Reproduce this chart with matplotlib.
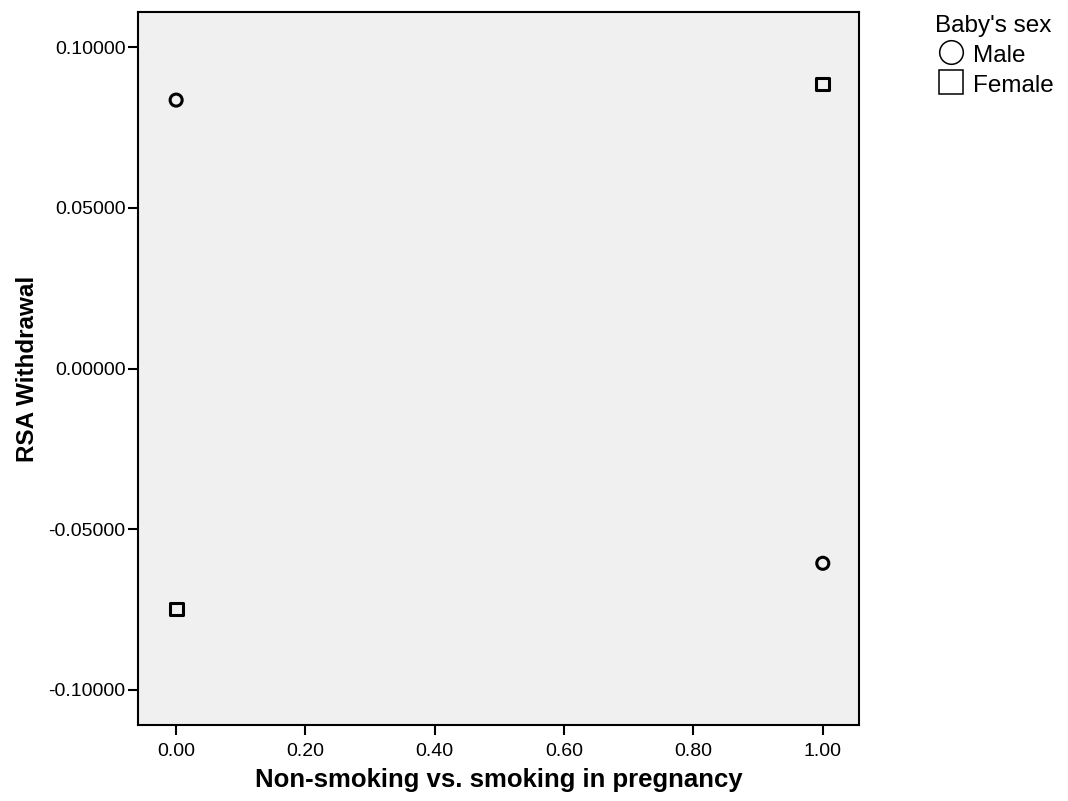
import matplotlib.pyplot as plt
from matplotlib.lines import Line2D

plt.rcParams['font.family'] = ['Liberation Sans', 'DejaVu Sans']

# Group means: smoking status (0 = non-smoking, 1 = smoking) by baby's sex
smoking = [0.0, 1.0]
male_rsa = [0.0835, -0.0606]
female_rsa = [-0.0748, 0.0885]

x_ticks = [0.0, 0.2, 0.4, 0.6, 0.8, 1.0]
y_ticks = [-0.10, -0.05, 0.0, 0.05, 0.10]

fig = plt.figure(figsize=(10.68, 8.01), dpi=100)
ax = fig.add_axes([0.1292, 0.0949, 0.6751, 0.8901])
ax.set_facecolor('#f0f0f0')

ax.scatter(smoking, male_rsa, marker='o', s=75, facecolors='none',
           edgecolors='black', linewidths=2.2, zorder=3)
ax.scatter(smoking, female_rsa, marker='s', s=85, facecolors='none',
           edgecolors='black', linewidths=2.2, zorder=3)

ax.set_xlim(-0.059, 1.056)
ax.set_ylim(-0.1109, 0.1109)
ax.set_xticks(x_ticks)
ax.set_xticklabels([f'{v:.2f}' for v in x_ticks])
ax.set_yticks(y_ticks)
ax.set_yticklabels([f'{v:.5f}' for v in y_ticks])
ax.tick_params(direction='out', length=7, width=1.5, labelsize=14, colors='black', pad=2)
ax.tick_params(axis='x', pad=6)

for sp in ax.spines.values():
    sp.set_linewidth(1.5)

ax.set_xlabel('Non-smoking vs. smoking in pregnancy', fontsize=18.5, fontweight='bold', labelpad=6)
ax.set_ylabel('RSA Withdrawal', fontsize=17.5, fontweight='bold', labelpad=7)

handles = [
    Line2D([], [], marker='o', linestyle='none', markersize=17, markerfacecolor='white',
           markeredgecolor='black', markeredgewidth=1.1, label='Male'),
    Line2D([], [], marker='s', linestyle='none', markersize=17, markerfacecolor='white',
           markeredgecolor='black', markeredgewidth=1.1, label='Female'),
]
leg = fig.legend(handles=handles, title="Baby's sex", loc='upper left',
                 bbox_to_anchor=(0.8755, 0.981), frameon=False, fontsize=17.5,
                 title_fontsize=17.5, handletextpad=0.25, borderaxespad=0,
                 borderpad=0, labelspacing=0.2, handlelength=1.33, handleheight=1.1)
leg._legend_box.align = 'left'

fig.savefig('out.png', dpi=100)
